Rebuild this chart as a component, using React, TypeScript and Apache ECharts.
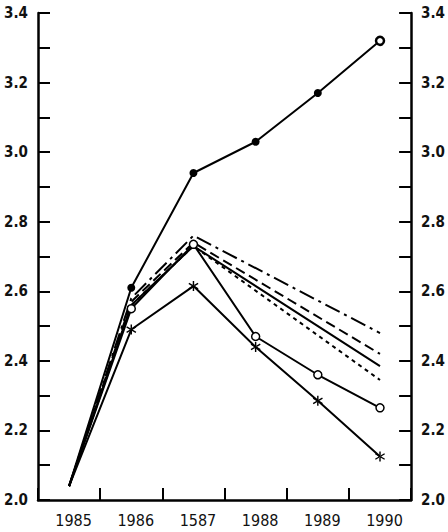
import React, { useEffect, useRef } from "react";
import * as echarts from "echarts";

const years = ["1985", "1986", "1587", "1988", "1989", "1990"];
const seriesDots = [2.04, 2.61, 2.94, 3.03, 3.17, 3.32];
const seriesDashDot = [2.04, 2.58, 2.76, null, null, 2.48];
const seriesLongDash = [2.04, 2.57, 2.74, null, null, 2.42];
const seriesSolid = [2.04, 2.56, 2.73, null, null, 2.385];
const seriesShortDash = [2.04, 2.56, 2.73, null, null, 2.345];
const seriesCircles = [2.04, 2.55, 2.735, 2.47, 2.36, 2.265];
const seriesStars = [2.04, 2.49, 2.615, 2.44, 2.285, 2.125];

const FONT = "'Liberation Sans Narrow', 'DejaVu Sans Condensed', 'Liberation Sans', Arial, sans-serif";
const STAR =
  "path://M-0.8,-6 L0.8,-6 L0.8,6 L-0.8,6 Z M-5.6,-2.6 L-4.8,-4 L5.6,2.6 L4.8,4 Z M-5.6,2.6 L-4.8,4 L5.6,-2.6 L4.8,-4 Z";

export default function App() {
  const ref = useRef<HTMLDivElement>(null);
  useEffect(() => {
    if (!ref.current) return;
    const chart = echarts.init(ref.current, undefined, { renderer: "svg" });
    const yAxisBase = (pos: "left" | "right") => ({
      type: "value",
      position: pos,
      min: 2.0,
      max: 3.4,
      interval: 0.1,
      splitLine: { show: false },
      axisLine: { show: true, onZero: false, lineStyle: { color: "#000", width: 2.5 } },
      axisTick: { show: true, inside: true, length: 12, lineStyle: { color: "#000", width: 2 } },
      axisLabel: {
        show: true,
        margin: 10,
        color: "#111",
        fontSize: 15,
        fontWeight: "bold",
        fontFamily: FONT,
        formatter: (v: number) => (Math.round(v * 10) % 2 === 0 ? v.toFixed(1) : ""),
      },
    });
    const line = (data: any[], type: any, extra: any = {}) => ({
      type: "line",
      data,
      connectNulls: true,
      showSymbol: false,
      symbol: "none",
      lineStyle: { color: "#000", width: 2, type },
      itemStyle: { color: "#000" },
      ...extra,
    });
    chart.setOption({
      animation: false,
      backgroundColor: "#fff",
      grid: { left: 38, right: 32, top: 13, bottom: 32 },
      xAxis: {
        type: "category",
        data: years,
        boundaryGap: true,
        axisLine: { show: true, onZero: false, lineStyle: { color: "#000", width: 2.5 } },
        axisTick: { show: true, inside: true, length: 12, lineStyle: { color: "#000", width: 2 } },
        axisLabel: {
          color: "#111",
          fontSize: 16,
          fontFamily: FONT,
          margin: 12,
          padding: [0, 0, 0, 9],
        },
        splitLine: { show: false },
      },
      yAxis: [yAxisBase("left"), yAxisBase("right")],
      series: [
        line(
          seriesDots.map((v, i) =>
            i === 0
              ? { value: v, symbol: "none" }
              : i === seriesDots.length - 1
              ? { value: v, itemStyle: { color: "#fff", borderColor: "#000", borderWidth: 2.5 } }
              : v
          ),
          "solid",
          { showSymbol: true, symbol: "circle", symbolSize: 8 }
        ),
        line(seriesDashDot, [16, 5, 3, 5]),
        line(seriesLongDash, [10, 5]),
        line(seriesSolid, "solid"),
        line(seriesShortDash, [4, 4]),
        line(
          seriesCircles.map((v, i) => (i === 0 ? { value: v, symbol: "none" } : v)),
          "solid",
          {
            showSymbol: true,
            symbol: "circle",
            symbolSize: 8,
            itemStyle: { color: "#fff", borderColor: "#000", borderWidth: 1.5 },
          }
        ),
        line(
          seriesStars.map((v, i) => (i === 0 ? { value: v, symbol: "none" } : v)),
          "solid",
          { showSymbol: true, symbol: STAR, symbolSize: 10, itemStyle: { color: "#000" } }
        ),
      ],
    });
    return () => chart.dispose();
  }, []);
  return (
    <div
      ref={ref}
      style={{ position: "fixed", left: 0, top: 0, width: 448, height: 532, background: "#fff" }}
    />
  );
}
